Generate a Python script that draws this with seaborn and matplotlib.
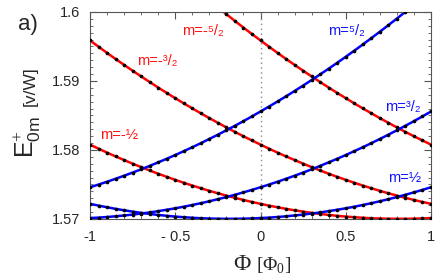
import numpy as np
import pandas as pd
import seaborn as sns
import matplotlib.pyplot as plt
from matplotlib.ticker import FixedLocator, FixedFormatter, MultipleLocator

nan = np.nan

# flux axis, in units of Phi_0
phi = np.round(np.linspace(-1, 1, 41), 2)

# E_0m^+ [v/W] for each angular momentum m (nan = off the top)
E_m_neg5 = [nan, nan, nan, nan, nan, nan, nan, nan, nan, nan,
            nan, nan, nan, nan, nan, 1.60067, 1.59968, 1.59870, 1.59774, 1.59680,
            1.59588, 1.59497, 1.59407, 1.59319, 1.59233, 1.59149, 1.59066, 1.58985, 1.58905, 1.58827,
            1.58751, 1.58676, 1.58603, 1.58532, 1.58462, 1.58394, 1.58327, 1.58262, 1.58199, 1.58138,
            1.58078]
E_m_neg3 = [1.59588, 1.59497, 1.59407, 1.59319, 1.59233, 1.59149, 1.59066, 1.58985, 1.58905, 1.58827,
            1.58751, 1.58676, 1.58603, 1.58532, 1.58462, 1.58394, 1.58327, 1.58262, 1.58199, 1.58138,
            1.58078, 1.58019, 1.57962, 1.57907, 1.57854, 1.57802, 1.57752, 1.57703, 1.57656, 1.57611,
            1.57567, 1.57525, 1.57485, 1.57446, 1.57408, 1.57373, 1.57339, 1.57307, 1.57276, 1.57247,
            1.57220]
E_m_neg1 = [1.58078, 1.58019, 1.57962, 1.57907, 1.57854, 1.57802, 1.57752, 1.57703, 1.57656, 1.57611,
            1.57567, 1.57525, 1.57485, 1.57446, 1.57408, 1.57373, 1.57339, 1.57307, 1.57276, 1.57247,
            1.57220, 1.57194, 1.57170, 1.57147, 1.57126, 1.57107, 1.57089, 1.57073, 1.57059, 1.57046,
            1.57035, 1.57026, 1.57018, 1.57011, 1.57007, 1.57004, 1.57003, 1.57003, 1.57005, 1.57008,
            1.57014]
E_m_pos1 = [1.57220, 1.57194, 1.57170, 1.57147, 1.57126, 1.57107, 1.57089, 1.57073, 1.57059, 1.57046,
            1.57035, 1.57026, 1.57018, 1.57011, 1.57007, 1.57004, 1.57003, 1.57003, 1.57005, 1.57008,
            1.57014, 1.57020, 1.57029, 1.57039, 1.57051, 1.57064, 1.57079, 1.57095, 1.57114, 1.57134,
            1.57155, 1.57178, 1.57203, 1.57229, 1.57257, 1.57287, 1.57318, 1.57351, 1.57386, 1.57422,
            1.57460]
E_m_pos3 = [1.57014, 1.57020, 1.57029, 1.57039, 1.57051, 1.57064, 1.57079, 1.57095, 1.57114, 1.57134,
            1.57155, 1.57178, 1.57203, 1.57229, 1.57257, 1.57287, 1.57318, 1.57351, 1.57386, 1.57422,
            1.57460, 1.57499, 1.57540, 1.57583, 1.57627, 1.57673, 1.57720, 1.57770, 1.57821, 1.57873,
            1.57927, 1.57983, 1.58040, 1.58099, 1.58160, 1.58222, 1.58286, 1.58351, 1.58418, 1.58487,
            1.58558]
E_m_pos5 = [1.57460, 1.57499, 1.57540, 1.57583, 1.57627, 1.57673, 1.57720, 1.57770, 1.57821, 1.57873,
            1.57927, 1.57983, 1.58040, 1.58099, 1.58160, 1.58222, 1.58286, 1.58351, 1.58418, 1.58487,
            1.58558, 1.58630, 1.58703, 1.58778, 1.58855, 1.58934, 1.59014, 1.59096, 1.59179, 1.59264,
            1.59351, 1.59439, 1.59529, 1.59621, 1.59714, 1.59809, 1.59905, 1.60003, 1.60103, nan,
            nan]

m_values = [-2.5, -1.5, -0.5, 0.5, 1.5, 2.5]
m_labels = ['m=-⁵/₂', 'm=-³/₂', 'm=-½', 'm=⁵/₂', 'm=³/₂', 'm=½']

x_ticks = [-1, -0.5, 0, 0.5, 1]
x_tick_labels = ['-1', '- 0.5', '0', '0.5', '1']
y_ticks = [1.57, 1.58, 1.59, 1.6]
y_tick_labels = ['1.57', '1.58', '1.59', '1.6']

# Build a long table
series = [E_m_neg5, E_m_neg3, E_m_neg1, E_m_pos1, E_m_pos3, E_m_pos5]
frames = [pd.DataFrame({'phi': phi, 'E': vals, 'm': m}) for m, vals in zip(m_values, series)]
df = pd.concat(frames, ignore_index=True).dropna()
df['sign'] = np.where(df['m'] < 0, 'neg', 'pos')

sns.set_style("ticks")
plt.rcParams['font.family'] = ['Liberation Sans', 'DejaVu Sans']
plt.rcParams['mathtext.fontset'] = 'custom'
plt.rcParams['mathtext.rm'] = 'Liberation Serif'
plt.rcParams['mathtext.sf'] = 'Liberation Sans'

fig = plt.figure(figsize=(4.38, 2.77), dpi=100)
ax = fig.add_axes([0.2055, 0.2094, 0.7785, 0.7473])

ax.axvline(0, color='#888888', lw=1.0, ls=(0, (1, 2.5)), zorder=1)

sns.lineplot(data=df, x='phi', y='E', hue='sign', units='m', estimator=None,
             palette={'neg': '#ff0000', 'pos': '#0000ff'}, lw=1.8,
             legend=False, ax=ax, zorder=2)
sns.scatterplot(data=df, x='phi', y='E', color='black', s=7, linewidth=0,
                ax=ax, zorder=3)

ax.set_xlim(-1, 1)
ax.set_ylim(1.57, 1.6)
ax.xaxis.set_major_locator(FixedLocator(x_ticks))
ax.xaxis.set_major_formatter(FixedFormatter(x_tick_labels))
ax.xaxis.set_minor_locator(MultipleLocator(0.1))
ax.yaxis.set_major_locator(FixedLocator(y_ticks))
ax.yaxis.set_major_formatter(FixedFormatter(y_tick_labels))
ax.yaxis.set_minor_locator(MultipleLocator(0.001))
ax.tick_params(which='both', direction='in', top=True, right=True,
               color='#555555', labelsize=10.5)
ax.tick_params(which='major', length=5, width=0.8)
ax.tick_params(which='minor', length=2.5, width=0.6)
ax.tick_params(axis='x', pad=8)
ax.tick_params(axis='y', pad=7)
for sp in ax.spines.values():
    sp.set_color('#555555')
    sp.set_linewidth(0.8)
ax.set_xlabel('')
ax.set_ylabel('')

# curve labels
lab_pos = [(-0.46, 1.5972), (-0.725, 1.5929), (-0.94, 1.5822),
           (0.395, 1.5972), (0.73, 1.5862), (0.748, 1.5759)]
for (x, y), lab, m in zip(lab_pos, m_labels, m_values):
    ax.text(x, y, lab, color='#ff1010' if m < 0 else '#1010ff', fontsize=10.5,
            ha='left', va='center', family=['Liberation Sans', 'DejaVu Sans'])

# axis titles
fig.text(0.062, 0.505, r'E$^{+}_{\mathsf{0m}}$', rotation=90, ha='center', va='center',
         fontsize=18)
fig.text(0.07, 0.69, '[v/W]', rotation=90, ha='center', va='center', fontsize=12.5)
fig.text(0.553, 0.045, 'Φ', family='Liberation Serif', fontsize=17, ha='center', va='center')
fig.text(0.585, 0.042, '[Φ$_{0}$]', family='Liberation Serif', fontsize=14,
         ha='left', va='center')
fig.text(0.04, 0.91, 'a)', fontsize=16, ha='left', va='center')

fig.savefig('out.png', dpi=100)
